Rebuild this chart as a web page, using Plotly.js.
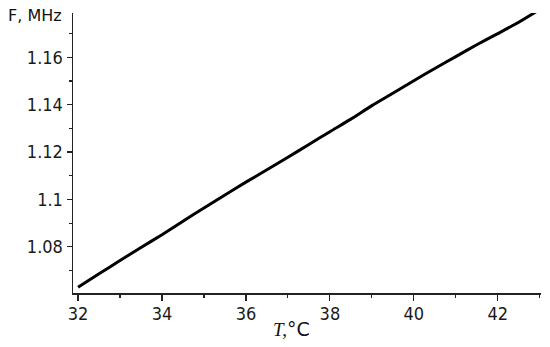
<!DOCTYPE html>
<html>
<head>
<meta charset="utf-8">
<script src="https://cdn.plot.ly/plotly-3.0.1.min.js"></script>
<style>
  html, body { margin: 0; padding: 0; background: #fff; }
  #myDiv { width: 550px; height: 347px; }
</style>
</head>
<body>
<div id="myDiv"></div>
<script>
// temperature, degC
var temp = [32, 32.5, 33, 33.5, 34, 34.5, 35, 35.5, 36, 36.5, 37, 37.5,
            38, 38.5, 39, 39.5, 40, 40.5, 41, 41.5, 42, 42.5, 43];
// frequency, MHz
var freq = [1.0629, 1.0686, 1.0742, 1.0797, 1.0851, 1.0908, 1.0964, 1.1019,
            1.1073, 1.1125, 1.1178, 1.1232, 1.1286, 1.1339, 1.1396, 1.1448,
            1.1501, 1.1553, 1.1603, 1.1653, 1.1700, 1.1748, 1.1802];

var xTitle = '<span style="font-family:Liberation Serif;font-style:italic">T,</span>°C';
var yTitle = 'F, MHz';

var tickFont = { family: 'DejaVu Sans Condensed, DejaVu Sans, sans-serif', size: 18, color: '#1a1a1a' };

/**************************************************************/
function getLayout() {
  var axisCommon = {
    showline: true,
    linecolor: '#222',
    linewidth: 1.5,
    ticks: 'outside',
    ticklen: 6,
    tickwidth: 1.2,
    tickcolor: '#222',
    showgrid: false,
    zeroline: false,
    tickfont: tickFont
  };
  var xa = Object.assign({}, axisCommon, {
    range: [31.88, 43.03],
    tick0: 32, dtick: 2,
    ticklabelstandoff: -2,
    minor: { dtick: 1, ticks: 'outside', ticklen: 3, tickcolor: '#222', tickwidth: 1.2 }
  });
  var ya = Object.assign({}, axisCommon, {
    range: [1.0605, 1.1787],
    tick0: 1.08, dtick: 0.02,
    ticklen: 5,
    minor: { dtick: 0.01, ticks: 'outside', ticklen: 3, tickcolor: '#222', tickwidth: 1.2 }
  });
  return {
    width: 550,
    height: 347,
    margin: { l: 73, r: 9, t: 13, b: 54 },
    paper_bgcolor: '#fff',
    plot_bgcolor: '#fff',
    showlegend: false,
    xaxis: xa,
    yaxis: ya,
    annotations: [{
      text: yTitle,
      xref: 'paper', yref: 'paper',
      x: 0, y: 1,
      xanchor: 'right', yanchor: 'middle',
      xshift: -9, yshift: -2,
      showarrow: false,
      font: { family: 'DejaVu Sans, sans-serif', size: 16, color: '#111' }
    }, {
      text: xTitle,
      xref: 'paper', yref: 'paper',
      x: 0.466, y: -0.13,
      xanchor: 'center', yanchor: 'middle',
      showarrow: false,
      font: { family: 'DejaVu Sans, sans-serif', size: 19, color: '#111' }
    }]
  };
}

var trace = {
  x: temp,
  y: freq,
  mode: 'lines',
  type: 'scatter',
  line: { color: '#000', width: 3, shape: 'spline', smoothing: 0.6 }
};

Plotly.newPlot('myDiv', [trace], getLayout(), { displayModeBar: false, staticPlot: true });
</script>
</body>
</html>
